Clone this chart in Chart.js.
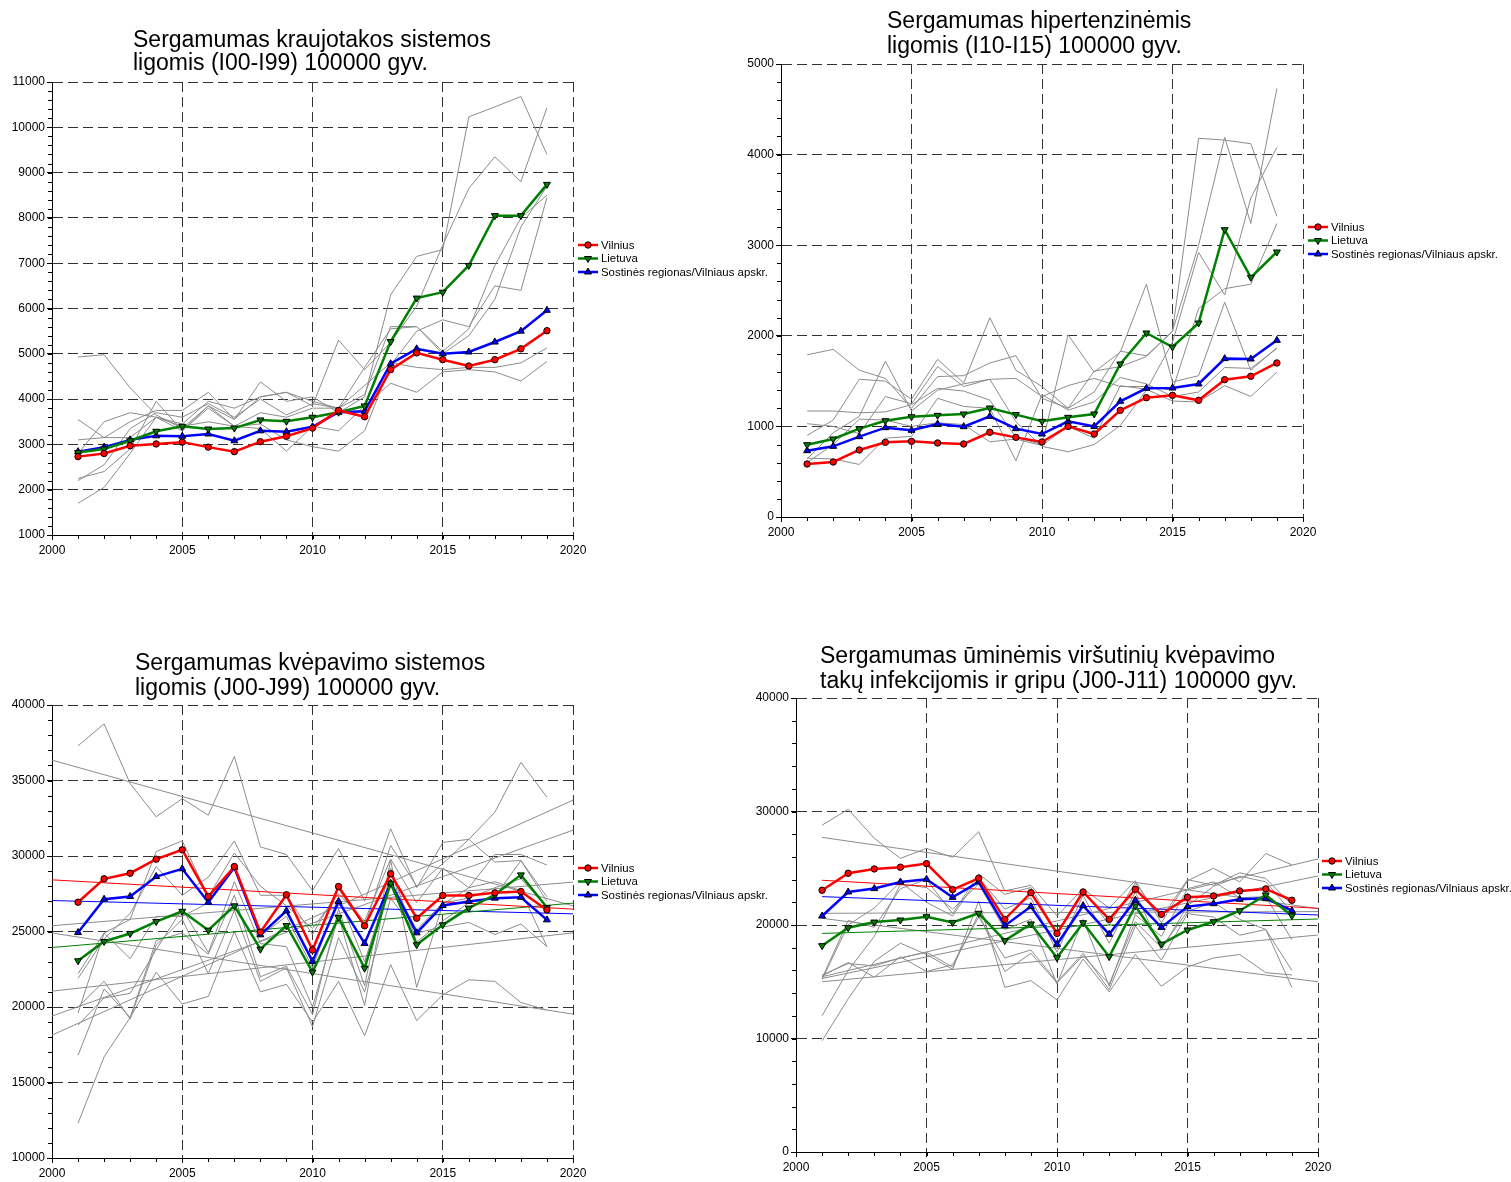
<!DOCTYPE html>
<html lang="lt">

<head>
    <meta charset="UTF-8" />
    <title>Sergamumas</title>
    <script src="https://cdn.jsdelivr.net/npm/chart.js@4.4.1/dist/chart.umd.min.js"></script>
    <style>
        body {
            margin: 0;
            background: #fff;
            width: 1511px;
            height: 1182px;
            position: relative;
            overflow: hidden;
            font-family: "Liberation Sans", Arial, sans-serif;
        }

        canvas {
            position: absolute;
        }

        .title {
            position: absolute;
            font-size: 23px;
            color: #000;
            white-space: nowrap;
            z-index: 5;
        }
    </style>
</head>

<body>
    <!-- Titles -->
    <div class="title" style="left:133px;top:28px;line-height:23px">Sergamumas kraujotakos sistemos<br>ligomis (I00-I99) 100000 gyv.</div>
    <div class="title" style="left:887px;top:8px;line-height:25px">Sergamumas hipertenzinėmis<br>ligomis (I10-I15) 100000 gyv.</div>
    <div class="title" style="left:135px;top:650px;line-height:25px">Sergamumas kvėpavimo sistemos<br>ligomis (J00-J99) 100000 gyv.</div>
    <div class="title" style="left:820px;top:643px;line-height:25px">Sergamumas ūminėmis viršutinių kvėpavimo<br>takų infekcijomis ir gripu (J00-J11) 100000 gyv.</div>

    <canvas id="circChart" style="left:0;top:0" width="780" height="580"></canvas>
    <canvas id="hypChart" style="left:740px;top:0" width="771" height="560"></canvas>
    <canvas id="respChart" style="left:0;top:600px" width="780" height="582"></canvas>
    <canvas id="acuteChart" style="left:740px;top:600px" width="771" height="582"></canvas>

    <script>
        const years = [2001, 2002, 2003, 2004, 2005, 2006, 2007, 2008, 2009, 2010,
            2011, 2012, 2013, 2014, 2015, 2016, 2017, 2018, 2019];
        const seriesNames = ["Vilnius", "Lietuva", "Sostinės regionas/Vilniaus apskr."];

        // kraujotakos sistemos ligos (I00-I99)
        const circVilnius = [2730, 2800, 2970, 3010, 3050, 2940, 2840, 3060, 3180, 3360, 3750, 3610, 4650, 5020, 4870, 4730, 4870, 5110, 5510];
        const circLietuva = [2820, 2900, 3080, 3290, 3400, 3340, 3360, 3540, 3510, 3600, 3710, 3850, 5270, 6230, 6360, 6950, 8050, 8050, 8740];
        const circSostine = [2840, 2940, 3100, 3190, 3180, 3230, 3080, 3300, 3280, 3390, 3710, 3730, 4780, 5110, 5000, 5040, 5260, 5500, 5960];
        const circOthers = [
            [4930, 4980, 4250, 3650, 3350, 3850, 3550, 4050, 4150, 3950, 3800, 4700, 5550, 5600, 5050, 5550, 6950, 8000, 8500],
            [3550, 3150, 3500, 3750, 3750, 4150, 3550, 4380, 3950, 4050, 3700, 4050, 6300, 7150, 7300, 10230, 10450, 10680, 9400],
            [3100, 3150, 3150, 3600, 3450, 3950, 3800, 4050, 4150, 3850, 5300, 4650, 5250, 6050, 7400, 8650, 9350, 8800, 10430],
            [2250, 2400, 2900, 3950, 3300, 3850, 3400, 3350, 2850, 3400, 3300, 3850, 4350, 4150, 4600, 4650, 4600, 4400, 4830],
            [2200, 2550, 3350, 3700, 3600, 3900, 3600, 4000, 3650, 3900, 3800, 4300, 4800, 4700, 4650, 4700, 4700, 4800, 5130],
            [1700, 2050, 2800, 3600, 3300, 3800, 3400, 3450, 3100, 2950, 2850, 3300, 4750, 5500, 5750, 5600, 6500, 6400, 8450],
            [2800, 3500, 3700, 3600, 3400, 3500, 3400, 3700, 3600, 3800, 3800, 4100, 5600, 5600, 5000, 5400, 6200, 7800, 8700]
        ];

        // hipertenzinės ligos (I10-I15)
        const hypVilnius = [585, 607, 740, 824, 835, 817, 806, 935, 879, 828, 1000, 916, 1177, 1317, 1343, 1288, 1516, 1553, 1700];
        const hypLietuva = [798, 861, 975, 1063, 1107, 1122, 1137, 1203, 1130, 1056, 1100, 1137, 1689, 2031, 1876, 2141, 3171, 2645, 2925];
        const hypSostine = [732, 780, 887, 986, 957, 1026, 997, 1111, 975, 916, 1056, 1000, 1277, 1420, 1424, 1468, 1748, 1744, 1950];
        const hypOthers = [
            [1790, 1850, 1620, 1530, 1200, 1550, 1560, 1700, 1780, 1310, 1200, 1610, 1660, 1770, 2050, 4180, 4160, 4120, 3320],
            [900, 1070, 1520, 1500, 1300, 1740, 1480, 2200, 1620, 1440, 1200, 1380, 1830, 1780, 2050, 3000, 4190, 3240, 4730],
            [1170, 1170, 1150, 1160, 1240, 1420, 1390, 1290, 880, 800, 2010, 1600, 1820, 2570, 1490, 1560, 2370, 1620, 1870],
            [1030, 1000, 920, 1330, 1250, 1660, 1440, 1520, 1530, 1330, 1450, 1530, 1440, 1440, 1400, 2300, 2520, 2570, 3240],
            [650, 640, 580, 870, 890, 1310, 1220, 1200, 620, 1350, 1180, 1270, 1540, 1470, 1330, 1380, 1650, 1640, 1860],
            [640, 930, 1110, 1720, 1170, 1400, 1470, 1520, 1050, 780, 720, 800, 1010, 1400, 1930, 2920, 2450, 3520, 4080],
            [600, 800, 1080, 1070, 1000, 1040, 1020, 830, 860, 790, 1000, 870, 1450, 1410, 1280, 1270, 1450, 1330, 1600]
        ];

        // kvėpavimo sistemos ligos (J00-J99)
        const respVilnius = [26940, 28490, 28860, 29790, 30410, 27320, 29300, 24960, 27430, 23770, 27980, 25380, 28820, 25880, 27380, 27380, 27560, 27650, 26430];
        const respLietuva = [23060, 24340, 24870, 25660, 26340, 25090, 26700, 23830, 25400, 22310, 25930, 22570, 28200, 24120, 25440, 26550, 27430, 28750, 26590];
        const respSostine = [24930, 27140, 27320, 28640, 29150, 26940, 29240, 24780, 26370, 23020, 26990, 24210, 28200, 24910, 26720, 26990, 27210, 27270, 25770];
        const respOthers = [
            [37300, 38750, 34800, 32600, 33800, 32700, 36600, 30600, 30100, 27700, 30500, 27000, 31800, 27900, 30900, 31100, 32900, 36200, 33900],
            [21900, 24500, 26200, 29300, 27400, 28600, 31000, 27400, 27400, 24800, 27800, 25300, 30700, 28000, 29500, 31100, 29600, 29700, 27300],
            [19600, 24900, 25800, 30300, 31000, 27300, 30200, 28000, 26700, 25200, 27500, 25700, 29800, 26900, 29200, 27900, 30100, 30100, 29400],
            [16800, 21200, 19300, 22300, 20200, 20700, 25000, 21000, 21500, 19000, 21700, 18100, 22800, 19100, 20800, 21800, 21700, 20300, 19800],
            [12300, 16700, 19300, 24400, 24900, 23500, 27400, 22000, 22700, 19500, 26500, 21400, 29700, 21300, 26800, 27900, 28300, 27700, 24000],
            [18800, 20600, 20900, 23800, 26500, 23600, 28300, 24200, 24000, 20000, 26000, 20100, 29200, 24300, 25700, 26900, 27300, 29700, 27000],
            [22200, 24900, 23200, 26000, 26000, 26900, 29300, 24700, 26000, 22600, 27300, 23000, 28400, 25100, 26900, 27200, 27900, 28500, 26600],
            [20000, 21700, 19200, 24100, 25800, 22200, 26400, 21700, 22600, 18700, 24600, 21000, 27200, 24900, 25300, 25600, 24800, 25500, 24000]
        ];
        const respTrendYears = [2000, 2020];
        const respTrendVilnius = [28420, 26480];
        const respTrendLietuva = [23940, 26880];
        const respTrendSostine = [27050, 26170];
        const respTrendOthers = [[36350, 26700], [25380, 28270], [24900, 19530], [21050, 24910], [19400, 31710], [18140, 33700]];

        // ūminės viršutinių kvėpavimo takų infekcijos ir gripas (J00-J11)
        const acuteVilnius = [23060, 24560, 24940, 25090, 25410, 23120, 24120, 20500, 22850, 19260, 22910, 20500, 23150, 20940, 22440, 22560, 23000, 23180, 22180];
        const acuteLietuva = [18180, 19760, 20260, 20440, 20730, 20230, 21030, 18620, 20090, 17120, 20200, 17210, 21680, 18320, 19560, 20290, 21260, 22650, 20820];
        const acuteSostine = [20790, 22910, 23210, 23790, 24030, 22440, 23790, 19940, 21620, 18290, 21710, 19180, 22180, 19790, 21620, 21880, 22260, 22350, 21260];
        const acuteOthers = [
            [28800, 30190, 27640, 25870, 26750, 25960, 28220, 23000, 23500, 20800, 23200, 21500, 23900, 20200, 23900, 25000, 23800, 26300, 25300],
            [15300, 20400, 19800, 23200, 24000, 21000, 24500, 22700, 23300, 19300, 23100, 20000, 23700, 20600, 24000, 23500, 24600, 24100, 21800],
            [15200, 20000, 21500, 23800, 22000, 20800, 24200, 21400, 22400, 17600, 22600, 18400, 22900, 17800, 21700, 23400, 24300, 23800, 21100],
            [12000, 16000, 19000, 23600, 23300, 21400, 23600, 19600, 20500, 14800, 20500, 14600, 20900, 19000, 23200, 23800, 22400, 22500, 18700],
            [9800, 13500, 16800, 18400, 17400, 16100, 22100, 14500, 15100, 13400, 17000, 14100, 17400, 14600, 16300, 17100, 17400, 15800, 15600],
            [15500, 16700, 15400, 17200, 15900, 16500, 20700, 17100, 17800, 15000, 17500, 14300, 19900, 16900, 21000, 20700, 19100, 19600, 14500],
            [15600, 16600, 16400, 17100, 17600, 16300, 21000, 15900, 17500, 14900, 17300, 14800, 20300, 18000, 21200, 22000, 20500, 19600, 16000]
        ];
        const acuteTrendYears = [2001, 2020];
        const acuteTrendVilnius = [23940, 21470];
        const acuteTrendLietuva = [19260, 20530];
        const acuteTrendSostine = [22500, 20880];
        const acuteTrendOthers = [[27720, 21440], [21030, 21180], [20590, 15000], [15440, 25820], [15290, 24320], [15000, 19120]];

        const RED = "#ff0000", GREEN = "#008000", BLUE = "#0000ff", GRAY = "#8c8c8c";
        const FONT = '"Liberation Sans", Arial, sans-serif';

        function pts(xs, ys) {
            return ys.map((v, i) => ({ x: xs[i], y: v }));
        }

        function mainSets(v, l, s) {
            const base = { borderWidth: 2.5, pointRadius: 3.2, pointBorderColor: "#000", pointBorderWidth: 1, order: 0, inLegend: true };
            return [
                Object.assign({ label: seriesNames[0], data: pts(years, v), borderColor: RED, pointBackgroundColor: RED, pointStyle: "circle", pointRotation: 0 }, base),
                Object.assign({ label: seriesNames[1], data: pts(years, l), borderColor: GREEN, pointBackgroundColor: GREEN, pointStyle: "triangle", pointRotation: 180 }, base, { pointRadius: 4 }),
                Object.assign({ label: seriesNames[2], data: pts(years, s), borderColor: BLUE, pointBackgroundColor: BLUE, pointStyle: "triangle", pointRotation: 0 }, base, { pointRadius: 4 })
            ];
        }

        function thinSet(xs, ys, color, order) {
            return { data: pts(xs, ys), borderColor: color, borderWidth: 1, pointRadius: 0, order: order };
        }

        function graySets(list) {
            return list.map(a => thinSet(years, a, GRAY, 3));
        }

        function trendSets(xs, v, l, s, others) {
            return others.map(a => thinSet(xs, a, GRAY, 2)).concat([
                thinSet(xs, v, RED, 1), thinSet(xs, l, GREEN, 1), thinSet(xs, s, BLUE, 1)
            ]);
        }

        // legend to the right of the plot, drawn with the dataset styles
        const sideLegend = {
            id: "sideLegend",
            afterDraw(chart, args, opts) {
                const { ctx, chartArea: a } = chart;
                const items = chart.data.datasets.filter(d => d.inLegend);
                ctx.save();
                ctx.font = "11.4px " + FONT;
                ctx.textBaseline = "middle";
                items.forEach((d, i) => {
                    const x0 = a.right + opts.dx, y0 = a.top + 163 + i * 13.5;
                    ctx.strokeStyle = d.borderColor;
                    ctx.lineWidth = 2.5;
                    ctx.beginPath();
                    ctx.moveTo(x0, y0);
                    ctx.lineTo(x0 + 20, y0);
                    ctx.stroke();
                    ctx.fillStyle = d.pointBackgroundColor;
                    ctx.strokeStyle = "#000";
                    ctx.lineWidth = 1;
                    if (Chart.helpers && Chart.helpers.drawPoint) {
                        Chart.helpers.drawPoint(ctx, { pointStyle: d.pointStyle, radius: d.pointRadius, rotation: d.pointRotation, borderWidth: 1 }, x0 + 10, y0);
                    } else {
                        ctx.beginPath();
                        ctx.arc(x0 + 10, y0, 3, 0, Math.PI * 2);
                        ctx.fill();
                        ctx.stroke();
                    }
                    ctx.fillStyle = "#000";
                    ctx.fillText(d.label, x0 + 23, y0 + 0.5);
                });
                ctx.restore();
            }
        };

        // small ticks on both axes
        const minorTicks = {
            id: "minorTicks",
            afterDraw(chart, args, opts) {
                const { ctx, chartArea: a, scales: { x, y } } = chart;
                ctx.save();
                ctx.strokeStyle = "#000";
                ctx.lineWidth = 1;
                ctx.beginPath();
                for (let v = y.min; v <= y.max; v += opts.yStep) {
                    const py = Math.round(y.getPixelForValue(v)) + 0.5;
                    ctx.moveTo(a.left - 4, py);
                    ctx.lineTo(a.left, py);
                }
                for (let v = x.min; v <= x.max; v += 1) {
                    const px = Math.round(x.getPixelForValue(v)) + 0.5;
                    ctx.moveTo(px, a.bottom);
                    ctx.lineTo(px, a.bottom + 4);
                }
                ctx.stroke();
                ctx.restore();
            }
        };

        function makeChart(id, c) {
            const tickFont = { family: FONT, size: 12 };
            return new Chart(document.getElementById(id), {
                type: "line",
                data: { datasets: c.datasets },
                options: {
                    responsive: false,
                    animation: false,
                    layout: { padding: c.pad },
                    elements: { line: { tension: 0 } },
                    plugins: {
                        legend: { display: false },
                        tooltip: { enabled: false },
                        sideLegend: { dx: c.legendDx },
                        minorTicks: { yStep: c.minor }
                    },
                    scales: {
                        x: {
                            type: "linear", min: 2000, max: 2020,
                            afterFit: s => { s.height = c.xh; },
                            ticks: { stepSize: 5, color: "#000", font: tickFont, padding: 3, maxRotation: 0, callback: v => String(v) },
                            grid: { color: "#333", tickColor: "#000", tickLength: 5 },
                            border: { color: "#000", width: 1, dash: [10, 5] }
                        },
                        y: {
                            type: "linear", min: c.ymin, max: c.ymax,
                            afterFit: s => { s.width = c.yw; },
                            ticks: { stepSize: c.step, color: "#000", font: tickFont, padding: 2, callback: v => String(v) },
                            grid: { color: "#333", tickColor: "#000", tickLength: 5 },
                            border: { color: "#000", width: 1, dash: [10, 5] }
                        }
                    }
                },
                plugins: [sideLegend, minorTicks]
            });
        }

        makeChart("circChart", {
            datasets: mainSets(circVilnius, circLietuva, circSostine).concat(graySets(circOthers)),
            pad: { left: 0, top: 82, right: 207, bottom: 20 },
            yw: 52, xh: 25, ymin: 1000, ymax: 11000, step: 1000, minor: 200, legendDx: 5
        });

        makeChart("hypChart", {
            datasets: mainSets(hypVilnius, hypLietuva, hypSostine).concat(graySets(hypOthers)),
            pad: { left: 0, top: 64, right: 208, bottom: 18 },
            yw: 41, xh: 25, ymin: 0, ymax: 5000, step: 1000, minor: 200, legendDx: 5
        });

        makeChart("respChart", {
            datasets: mainSets(respVilnius, respLietuva, respSostine)
                .concat(trendSets(respTrendYears, respTrendVilnius, respTrendLietuva, respTrendSostine, respTrendOthers))
                .concat(graySets(respOthers)),
            pad: { left: 0, top: 105, right: 207, bottom: 2 },
            yw: 52, xh: 22, ymin: 10000, ymax: 40000, step: 5000, minor: 1000, legendDx: 5
        });

        makeChart("acuteChart", {
            datasets: mainSets(acuteVilnius, acuteLietuva, acuteSostine)
                .concat(trendSets(acuteTrendYears, acuteTrendVilnius, acuteTrendLietuva, acuteTrendSostine, acuteTrendOthers))
                .concat(graySets(acuteOthers)),
            pad: { left: 0, top: 98, right: 193, bottom: 8 },
            yw: 56, xh: 22, ymin: 0, ymax: 40000, step: 10000, minor: 2000, legendDx: 4
        });
    </script>
</body>

</html>
